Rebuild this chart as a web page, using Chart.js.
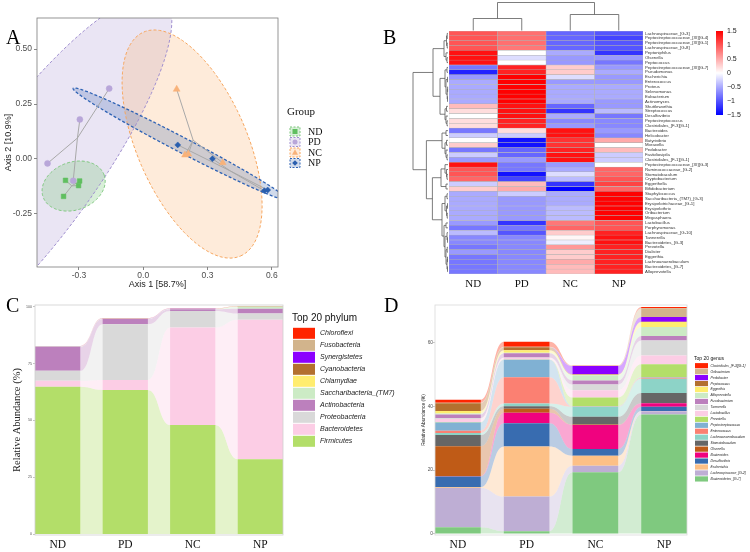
<!DOCTYPE html>
<html><head><meta charset="utf-8">
<script src="https://cdn.jsdelivr.net/npm/chart.js@4.4.1/dist/chart.umd.min.js"></script>
<style>
html,body{margin:0;padding:0;background:#fff}
#wrap{position:relative;width:750px;height:552px;overflow:hidden;background:#fff}
#wrap canvas{position:absolute}
.pl{position:absolute;font-family:"Liberation Serif","Times New Roman",serif;font-size:20px;line-height:20px;color:#000}
</style></head><body>
<div id="wrap">
 <canvas id="cA" width="375" height="300" style="left:0;top:0"></canvas>
 <canvas id="cB" width="375" height="300" style="left:375px;top:0"></canvas>
 <canvas id="cC" width="400" height="272" style="left:0;top:280px"></canvas>
 <canvas id="cD" width="375" height="272" style="left:375px;top:280px"></canvas>
 <div class="pl" style="left:6px;top:27px">A</div>
 <div class="pl" style="left:383px;top:27px">B</div>
 <div class="pl" style="left:6px;top:295px">C</div>
 <div class="pl" style="left:384px;top:295px">D</div>
</div>
<script>
// ================= DATA =================
// Panel A: PCoA (Axis 1, Axis 2 per sample)
const pcoaGroups = ['ND', 'PD', 'NC', 'NP'];
const ndAxis1 = [-0.363, -0.297, -0.302, -0.372];
const ndAxis2 = [-0.097, -0.100, -0.121, -0.170];
const pdAxis1 = [-0.447, -0.296, -0.159, -0.327];
const pdAxis2 = [-0.020, 0.180, 0.320, -0.099];
const ncAxis1 = [0.156, 0.195, 0.210, 0.371];
const ncAxis2 = [0.317, 0.018, 0.023, -0.017];
const npAxis1 = [0.161, 0.323, 0.565, 0.581];
const npAxis2 = [0.064, 0.001, -0.144, -0.141];
const pcoaXTicks = [-0.3, 0, 0.3, 0.6];
const pcoaYTicks = [-0.25, 0, 0.25, 0.5];
// confidence ellipses: centre (x,y), semi-axis vector u, semi-axis vector v (data units)
const ellipseND = [-0.325, -0.123, 0.1425, 0.050, 0.0374, -0.1023];
const ellipsePD = [-0.512, -0.0745, 0.605, 0.8086, 0.2248, -0.159];
const ellipseNC = [0.228, 0.068, 0.226, -0.509, 0.236, 0.099];
const ellipseNP = [0.1715, 0.0686, 0.4986, -0.2527, -0.0162, -0.0302];

// Panel B: heatmap (z-scores)
const heatCols = ['ND', 'PD', 'NC', 'NP'];
const heatRows = ['Lachnospiraceae_[G-3]','Peptostreptococcaceae_[XI][G-4]','Peptostreptococcaceae_[XI][G-1]','Lachnospiraceae_[G-8]','Peptoniphilus','Olsenella','Peptococcus','Peptostreptococcaceae_[XI][G-7]','Pseudomonas','Escherichia','Enterococcus','Proteus','Selenomonas','Eubacterium','Actinomyces','Shuttleworthia','Streptococcus','Desulfovibrio','Peptostreptococcus','Clostridiales_[F-3][G-1]','Bacteroides','Helicobacter','Butyrivibrio','Moraxella','Pedobacter','Fastidiosipila','Clostridiales_[F-1][G-1]','Peptostreptococcaceae_[XI][G-3]','Ruminococcaceae_[G-2]','Stomatobaculum','Cryptobacterium','Eggerthella','Bifidobacterium','Staphylococcus','Saccharibacteria_(TM7)_[G-3]','Erysipelotrichaceae_[G-1]','Erysipelothrix','Oribacterium','Megasphaera','Lactobacillus','Porphyromonas','Lachnospiraceae_[G-10]','Tannerella','Bacteroidetes_[G-3]','Prevotella','Dialister','Eggerthia','Lachnoanaerobaculum','Bacteroidetes_[G-7]','Alloprevotella'];
const heatND = [1.0,1.0,1.0,1.0,1.4,1.4,1.4,-0.8,-1.3,-0.6,-0.5,-0.5,-0.5,-0.5,-0.5,0.4,0.2,0.0,0.2,0.2,-0.8,-0.3,0.0,0.3,-0.8,-0.3,-0.6,1.4,1.0,1.0,0.9,-0.3,0.3,-0.5,-0.5,-0.5,-0.5,-0.5,-0.5,-0.6,-0.8,-0.4,-0.7,-0.7,-0.8,-0.6,-0.8,-0.8,-0.8,-0.8];
const heatPD = [0.85,0.85,0.85,0.8,0.0,-0.2,0.0,1.3,1.3,1.5,1.5,1.5,1.5,1.5,1.5,1.4,1.4,1.4,1.3,1.3,0.2,-0.3,-1.4,-1.4,-0.9,-0.9,-0.6,-0.8,-0.8,-1.4,-1.1,0.4,0.5,-0.3,-0.6,-0.6,-0.6,-0.6,-0.6,-1.2,-0.8,-1.0,-0.7,-0.7,-0.7,-0.7,-0.7,-0.7,-0.7,-0.7];
const heatNC = [-0.9,-0.9,-0.9,-0.9,-0.5,-0.6,-0.6,0.3,0.3,-0.2,-0.6,-0.5,-0.5,-0.5,-0.5,-0.9,-1.2,-0.5,-0.7,-0.6,1.4,1.4,1.2,1.2,1.3,1.4,1.4,-0.6,-0.5,-0.2,-0.4,-1.2,-1.5,-0.5,-0.5,-0.5,-0.4,-0.4,-0.4,0.8,0.9,0.3,0.05,-0.1,0.6,0.3,0.3,0.5,0.4,0.4];
const heatNP = [-1.0,-1.1,-1.0,-1.0,-1.2,-0.6,-0.8,-0.6,-0.5,-0.6,-0.6,-0.5,-0.5,-0.5,-0.6,-0.6,-0.4,-0.8,-0.7,-0.7,-0.6,-0.7,0.5,0.0,0.4,-0.3,-0.3,0.0,0.9,0.9,1.0,1.1,0.9,1.5,1.5,1.5,1.5,1.5,1.5,1.0,1.0,1.3,1.4,1.4,1.3,1.3,1.3,1.3,1.3,1.3];
const colorbarTicks = [1.5, 1, 0.5, 0, -0.5, -1, -1.5];
// hierarchical clustering: [height, left, right]; leaves = row / column index
const rowTree = [35,
  [15,
    [4, [1.5, [0.8, 0, 1], [0.8, 2, 3]], [2, 4, [1, 5, 6]]],
    [8, [3, [1, 7, 8], [2, [0.5, 9, 10], [0.8, [0.4, 11, 12], [0.5, 13, 14]]]], [3, [1.5, 15, 16], [2, 17, [1, 18, 19]]]]],
  [21.6,
    [6, [2, 20, 21], [3, [1.5, 22, 23], [2, 24, [1, 25, 26]]]],
    [15.6,
      [7, [3, 27, [1.5, 28, [1, 29, 30]]], [2, 31, 32]],
      [6, [3, [1, 33, 34], [1.5, [0.5, 35, 36], [0.8, 37, 38]]], [4, [2, 39, 40], [3, [1, 41, [0.5, 42, 43]], [2, [0.8, 44, 45], [1, [0.5, 46, 47], [0.5, 48, 49]]]]]]]]];
const colTree = [28, [12, 0, 1], [16, 2, 3]];

// Panel C: top phyla, relative abundance (%) – order bottom -> top
const groupNames = ['ND', 'PD', 'NC', 'NP'];
const phylumNames = ['Firmicutes','Bacteroidetes','Proteobacteria','Actinobacteria','Saccharibacteria_(TM7)','Chlamydiae','Cyanobacteria','Synergistetes','Fusobacteria','Chloroflexi'];
const phylumND = [64.8, 2.6, 4.4, 10.6, 0.1, 0.05, 0.05, 0.05, 0.05, 0.05];
const phylumPD = [63.4, 4.4, 24.5, 2.3, 0.1, 0.05, 0.05, 0.05, 0.05, 0.05];
const phylumNC = [48.0, 42.8, 7.3, 0.7, 0.2, 0.05, 0.05, 0.05, 0.05, 0.05];
const phylumNP = [33.0, 61.2, 2.8, 2.0, 1.0, 0.05, 0.05, 0.05, 0.05, 0.05];
const phylumTicks = [0, 25, 50, 75, 100];

// Panel D: top genera, relative abundance (%) – order bottom -> top
const genusNames = ['Bacteroidetes_[G-7]','Lachnospiraceae_[G-2]','Escherichia','Desulfovibrio','Bacteroides','Olsenella','Stomatobaculum','Lachnoanaerobaculum','Enterococcus','Peptostreptococcus','Prevotella','Lactobacillus','Tannerella','Fusobacterium','Alloprevotella','Eggerthia','Peptococcus','Pedobacter','Oribacterium','Clostridiales_[F-3][G-1]'];
const genusND = [2.0, 12.4, 0.2, 3.4, 0.1, 9.4, 3.5, 0.7, 0.7, 2.6, 0.1, 1.0, 0.2, 1.2, 0.3, 0.8, 2.4, 0.05, 0.1, 1.0];
const genusPD = [0.8, 10.9, 15.7, 7.3, 3.3, 1.3, 0.8, 0.8, 8.3, 5.5, 0.1, 0.5, 0.1, 1.3, 0.2, 0.8, 0.9, 0.05, 0.1, 1.6];
const genusNC = [19.3, 2.1, 3.1, 2.1, 7.6, 0.1, 2.5, 3.1, 0.1, 0.1, 2.7, 2.3, 1.8, 1.3, 1.6, 0.2, 0.1, 2.6, 0.1, 0.1];
const genusNP = [37.5, 1.0, 0.1, 1.3, 1.1, 0.05, 3.2, 4.5, 0.3, 0.1, 4.1, 2.8, 4.7, 1.4, 2.8, 1.6, 0.1, 1.5, 2.7, 0.4];
const genusTicks = [0, 20, 40, 60];

// ================= STYLE =================
const SANS = '"Liberation Sans", Arial, Helvetica, sans-serif';
const SERIF = '"Liberation Serif", "Times New Roman", Times, serif';
Chart.defaults.font.family = SANS;
Chart.defaults.animation = false;
Chart.defaults.events = [];
Chart.defaults.plugins.legend.display = false;
Chart.defaults.plugins.tooltip.enabled = false;

const groupStyle = {
  ND: {pt: '#5fbf5f', shape: 'rect', r: 3.3, fill: 'rgba(100,190,100,0.25)', line: '#7cc67c', lw: 1},
  PD: {pt: '#b8a6d9', shape: 'circle', r: 3, fill: 'rgba(185,170,220,0.30)', line: '#a08fcf', lw: 1},
  NC: {pt: '#f8b27a', shape: 'triangle', r: 4, fill: 'rgba(250,180,120,0.27)', line: '#f6a55d', lw: 1},
  NP: {pt: '#2a5fae', shape: 'rectRot', r: 3, fill: 'rgba(60,100,170,0.24)', line: '#2f63b5', lw: 1.3}
};
const phylumColors = ['#b3de69','#fccde5','#d9d9d9','#bc80bd','#ccebc5','#ffed6f','#b3702f','#8b00ff','#d2b48c','#ff2400'];
const genusColors = ['#7fc97f','#beaed4','#fdc086','#386cb0','#f0027f','#bf5b17','#666666','#8dd3c7','#fb8072','#80b1d3','#b3de69','#fccde5','#d9d9d9','#bc80bd','#ccebc5','#ffed6f','#b3702f','#8b00ff','#d2b48c','#ff2400'];

function withAlpha(hex, a) {
  const n = parseInt(hex.slice(1), 16);
  return `rgba(${n >> 16},${(n >> 8) & 255},${n & 255},${a})`;
}

const framePlugin = (color, lw) => ({
  id: 'frame',
  afterDatasetsDraw(chart) {
    const {ctx, chartArea: ca} = chart;
    ctx.save(); ctx.strokeStyle = color; ctx.lineWidth = lw;
    ctx.strokeRect(ca.left, ca.top, ca.right - ca.left, ca.bottom - ca.top);
    ctx.restore();
  }
});

// ================= PANEL A =================
const pcoaX = [ndAxis1, pdAxis1, ncAxis1, npAxis1];
const pcoaY = [ndAxis2, pdAxis2, ncAxis2, npAxis2];
const ellipseParams = [ellipseND, ellipsePD, ellipseNC, ellipseNP];
const ellipseOrder = [1, 2, 0, 3];

const aDatasets = [];
pcoaGroups.forEach((g, gi) => {
  const xs = pcoaX[gi], ys = pcoaY[gi];
  const cx = xs.reduce((s, v) => s + v, 0) / xs.length;
  const cy = ys.reduce((s, v) => s + v, 0) / ys.length;
  const seg = [];
  xs.forEach((x, i) => { seg.push({x: cx, y: cy}, {x: x, y: ys[i]}, {x: null, y: null}); });
  aDatasets.push({data: seg, showLine: true, borderColor: '#a8a8a8', borderWidth: 1, pointRadius: 0, spanGaps: false, order: 2});
});
pcoaGroups.forEach((g, gi) => {
  const st = groupStyle[g];
  aDatasets.push({label: g, data: pcoaX[gi].map((x, i) => ({x: x, y: pcoaY[gi][i]})),
    pointStyle: st.shape, pointRadius: st.r, backgroundColor: st.pt, borderColor: st.pt, borderWidth: 0.5, order: 1});
});

const ellipsePlugin = {
  id: 'ellipses',
  beforeDatasetsDraw(chart) {
    const {ctx, chartArea: ca, scales: {x, y}} = chart;
    const paths = ellipseOrder.map(gi => {
      const [cx, cy, ux, uy, vx, vy] = ellipseParams[gi];
      const p = new Path2D();
      for (let k = 0; k <= 180; k++) {
        const t = k / 180 * Math.PI * 2;
        const dx = cx + Math.cos(t) * ux + Math.sin(t) * vx;
        const dy = cy + Math.cos(t) * uy + Math.sin(t) * vy;
        const px = x.getPixelForValue(dx), py = y.getPixelForValue(dy);
        if (k) p.lineTo(px, py); else p.moveTo(px, py);
      }
      p.closePath();
      return [gi, p];
    });
    ctx.save();
    ctx.beginPath(); ctx.rect(ca.left, ca.top, ca.right - ca.left, ca.bottom - ca.top); ctx.clip();
    paths.forEach(([gi, p]) => { ctx.fillStyle = groupStyle[pcoaGroups[gi]].fill; ctx.fill(p); });
    paths.forEach(([gi, p]) => {
      const st = groupStyle[pcoaGroups[gi]];
      ctx.setLineDash([3, 2]); ctx.strokeStyle = st.line; ctx.lineWidth = st.lw; ctx.stroke(p);
    });
    ctx.restore();
  }
};

const groupLegendPlugin = {
  id: 'groupLegend',
  afterDraw(chart) {
    const ctx = chart.ctx;
    ctx.save();
    ctx.fillStyle = '#111'; ctx.textBaseline = 'middle';
    ctx.font = `11px ${SERIF}`; ctx.fillText('Group', 287, 112);
    const ys = [131.5, 142, 152.5, 163];
    pcoaGroups.forEach((g, i) => {
      const st = groupStyle[g];
      const y = ys[i];
      ctx.fillStyle = st.fill; ctx.fillRect(290, y - 4.5, 10, 9);
      ctx.setLineDash([2, 1.5]); ctx.strokeStyle = st.line; ctx.lineWidth = 1;
      ctx.strokeRect(290, y - 4.5, 10, 9); ctx.setLineDash([]);
      ctx.fillStyle = st.pt;
      const cx = 295, r = 2.5;
      ctx.beginPath();
      if (st.shape === 'rect') ctx.rect(cx - r, y - r, 2 * r, 2 * r);
      else if (st.shape === 'circle') ctx.arc(cx, y, r, 0, Math.PI * 2);
      else if (st.shape === 'triangle') { ctx.moveTo(cx, y - 3.2); ctx.lineTo(cx + 3, y + 2.3); ctx.lineTo(cx - 3, y + 2.3); ctx.closePath(); }
      else { ctx.moveTo(cx, y - 2.8); ctx.lineTo(cx + 2.8, y); ctx.lineTo(cx, y + 2.8); ctx.lineTo(cx - 2.8, y); ctx.closePath(); }
      ctx.fill();
      ctx.fillStyle = '#111'; ctx.font = `10px ${SERIF}`;
      ctx.fillText(g, 308, y + 0.5);
    });
    ctx.restore();
  }
};

new Chart(document.getElementById('cA'), {
  type: 'scatter',
  data: {datasets: aDatasets},
  options: {
    responsive: false, devicePixelRatio: 1,
    layout: {padding: {left: 0, top: 18, right: 97, bottom: 0}},
    scales: {
      x: {type: 'linear', min: -0.496, max: 0.629,
        afterBuildTicks: s => { s.ticks = pcoaXTicks.map(v => ({value: v})); },
        ticks: {callback: v => v.toFixed(1), font: {size: 8.5}, color: '#4d4d4d', padding: 1, maxRotation: 0},
        grid: {display: true, drawOnChartArea: false, drawTicks: true, tickLength: 3, color: '#555', lineWidth: 0.7},
        border: {display: false},
        title: {display: true, text: 'Axis 1 [58.7%]', font: {size: 9}, color: '#222', padding: {top: 0, bottom: 10}},
        afterFit: s => { s.height = 33; }},
      y: {type: 'linear', min: -0.491, max: 0.641,
        afterBuildTicks: s => { s.ticks = pcoaYTicks.map(v => ({value: v})); },
        ticks: {callback: v => v.toFixed(2), font: {size: 8.5}, color: '#4d4d4d', padding: 2},
        grid: {display: true, drawOnChartArea: false, drawTicks: true, tickLength: 3, color: '#555', lineWidth: 0.7},
        border: {display: false},
        title: {display: true, text: 'Axis 2 [10.9%]', font: {size: 9}, color: '#222', padding: {top: 3, bottom: 0}},
        afterFit: s => { s.width = 37; }}
    }
  },
  plugins: [ellipsePlugin, framePlugin('#7a7a7a', 0.8), groupLegendPlugin]
});

// ================= PANEL B =================
const heatValues = [heatND, heatPD, heatNC, heatNP];
function heatColor(v) {
  const t = Math.max(-1, Math.min(1, v / 1.5));
  if (t >= 0) { const c = Math.round(255 * (1 - t)); return `rgb(255,${c},${c})`; }
  const c = Math.round(255 * (1 + t)); return `rgb(${c},${c},255)`;
}
const dendroPlugin = {
  id: 'dendro',
  afterDraw(chart) {
    const {ctx, chartArea: ca, scales: {x, y}} = chart;
    ctx.save(); ctx.strokeStyle = '#5c5c5c'; ctx.lineWidth = 0.8;
    const L = ca.left - 1;
    const walkRow = node => {
      if (typeof node === 'number') return {p: y.getPixelForValue(node), h: 0};
      const [h, a, b] = node; const A = walkRow(a), B = walkRow(b);
      ctx.beginPath();
      ctx.moveTo(L - A.h, A.p); ctx.lineTo(L - h, A.p); ctx.lineTo(L - h, B.p); ctx.lineTo(L - B.h, B.p);
      ctx.stroke();
      return {p: (A.p + B.p) / 2, h: h};
    };
    walkRow(rowTree);
    const T = ca.top - 0.5;
    const walkCol = node => {
      if (typeof node === 'number') return {p: x.getPixelForValue(node + 0.5), h: 0};
      const [h, a, b] = node; const A = walkCol(a), B = walkCol(b);
      ctx.beginPath();
      ctx.moveTo(A.p, T - A.h); ctx.lineTo(A.p, T - h); ctx.lineTo(B.p, T - h); ctx.lineTo(B.p, T - B.h);
      ctx.stroke();
      return {p: (A.p + B.p) / 2, h: h};
    };
    walkCol(colTree);
    // colour key
    const bx = 341, bw = 7, bt = 31, bb = 115;
    const g = ctx.createLinearGradient(0, bt, 0, bb);
    g.addColorStop(0, '#ff0000'); g.addColorStop(0.5, '#ffffff'); g.addColorStop(1, '#0000ff');
    ctx.fillStyle = g; ctx.fillRect(bx, bt, bw, bb - bt);
    ctx.fillStyle = '#222'; ctx.font = `7px ${SANS}`; ctx.textBaseline = 'middle';
    colorbarTicks.forEach(v => {
      const yy = bt + (1.5 - v) / 3 * (bb - bt);
      ctx.fillText(String(v).replace('-', '\u2212'), bx + bw + 4, yy);
    });
    ctx.restore();
  }
};
new Chart(document.getElementById('cB'), {
  type: 'bar',
  data: {
    labels: heatRows,
    datasets: heatCols.map((c, ci) => ({
      label: c,
      data: heatValues[ci].map(() => [ci, ci + 1]),
      backgroundColor: heatValues[ci].map(heatColor),
      borderColor: '#b0b0b0', borderWidth: 0.5, borderSkipped: false,
      grouped: false, categoryPercentage: 1, barPercentage: 1
    }))
  },
  options: {
    indexAxis: 'y', responsive: false, devicePixelRatio: 1,
    layout: {padding: {left: 74, top: 31, right: 0, bottom: 0}},
    scales: {
      x: {type: 'linear', min: 0, max: 4, offset: false,
        afterBuildTicks: s => { s.ticks = heatCols.map((c, i) => ({value: i + 0.5})); },
        ticks: {callback: (v, i) => heatCols[i], font: {family: SERIF, size: 11}, color: '#111', padding: 4, maxRotation: 0, autoSkip: false},
        grid: {display: false, drawTicks: false}, border: {display: false},
        afterFit: s => { s.height = 26; }},
      y: {position: 'right',
        ticks: {autoSkip: false, font: {size: 4.3}, color: '#333', padding: 2},
        grid: {display: false, drawTicks: false}, border: {display: false},
        afterFit: s => { s.width = 107; }}
    }
  },
  plugins: [dendroPlugin]
});

// ================= PANELS C & D =================
const alluviumPlugin = {
  id: 'alluvium',
  beforeDatasetsDraw(chart) {
    const ctx = chart.ctx;
    ctx.save();
    chart.data.datasets.forEach((ds, i) => {
      const els = chart.getDatasetMeta(i).data;
      for (let k = 0; k < els.length - 1; k++) {
        const a = els[k].getProps(['x', 'y', 'base', 'width'], true);
        const b = els[k + 1].getProps(['x', 'y', 'base', 'width'], true);
        const x0 = a.x + a.width / 2, x1 = b.x - b.width / 2, xm = (x0 + x1) / 2;
        const aT = Math.min(a.y, a.base), aB = Math.max(a.y, a.base);
        const bT = Math.min(b.y, b.base), bB = Math.max(b.y, b.base);
        ctx.beginPath();
        ctx.moveTo(x0, aT);
        ctx.bezierCurveTo(xm, aT, xm, bT, x1, bT);
        ctx.lineTo(x1, bB);
        ctx.bezierCurveTo(xm, bB, xm, aB, x0, aB);
        ctx.closePath();
        ctx.fillStyle = withAlpha(ds.backgroundColor, 0.35);
        ctx.fill();
      }
    });
    ctx.restore();
  }
};
function taxaLegend(title, names, colors, o) {
  return {
    id: 'taxaLegend',
    afterDraw(chart) {
      const ctx = chart.ctx;
      ctx.save(); ctx.textBaseline = 'middle';
      ctx.fillStyle = '#111'; ctx.font = `${o.titleSize}px ${SANS}`;
      ctx.fillText(title, o.x, o.titleY);
      const n = names.length;
      for (let i = 0; i < n; i++) {
        const idx = n - 1 - i;
        const y = o.y0 + i * o.step;
        ctx.fillStyle = colors[idx];
        ctx.fillRect(o.x + 1, y - o.boxH / 2, o.boxW, o.boxH);
        ctx.fillStyle = '#222'; ctx.font = `italic ${o.textSize}px ${SANS}`;
        ctx.fillText(names[idx], o.x + 1 + o.boxW + o.gap, y);
      }
      ctx.restore();
    }
  };
}
function stackChart(id, names, colors, groupVals, cfg, legend) {
  const datasets = names.map((n, i) => ({
    label: n,
    data: groupVals.map((vals, gi) => ({x: gi + 1, y: vals[i]})),
    backgroundColor: colors[i], borderWidth: 0,
    categoryPercentage: 1, barPercentage: cfg.barRatio
  }));
  return new Chart(document.getElementById(id), {
    type: 'bar',
    data: {datasets: datasets},
    options: {
      responsive: false, devicePixelRatio: 1,
      layout: {padding: cfg.padding},
      scales: {
        x: {type: 'linear', stacked: true, offset: false, min: cfg.xMin, max: cfg.xMax,
          afterBuildTicks: s => { s.ticks = groupNames.map((g, i) => ({value: i + 1})); },
          ticks: {callback: (v, i) => groupNames[i], font: {family: SERIF, size: cfg.catFont}, color: '#111', padding: cfg.catPad, maxRotation: 0, autoSkip: false},
          grid: {display: false, drawTicks: false}, border: {display: false},
          afterFit: s => { s.height = cfg.xH; }},
        y: {type: 'linear', stacked: true, min: cfg.yMin, max: cfg.yMax,
          afterBuildTicks: s => { s.ticks = cfg.yTicks.map(v => ({value: v})); },
          ticks: {font: {size: cfg.tickFont}, color: '#555', padding: cfg.tickPad},
          grid: {display: true, drawOnChartArea: false, drawTicks: true, tickLength: 2, color: '#888', lineWidth: 0.5},
          border: {display: false},
          title: {display: true, text: 'Relative Abundance (%)', font: cfg.titleFont, color: '#222', padding: {top: cfg.titlePad, bottom: 0}},
          afterFit: s => { s.width = cfg.yW; }}
      }
    },
    plugins: [alluviumPlugin, framePlugin(cfg.frame, 0.8), legend]
  });
}
stackChart('cC', phylumNames, phylumColors, [phylumND, phylumPD, phylumNC, phylumNP], {
  barRatio: 0.672, padding: {left: 0, top: 25, right: 117, bottom: 0},
  xMin: 0.664, xMax: 4.336, yMin: -0.3, yMax: 100.7, yTicks: phylumTicks,
  catFont: 11.5, catPad: 3, xH: 17, tickFont: 3.6, tickPad: 1, yW: 35,
  titleFont: {family: SERIF, size: 10.5}, titlePad: 11, frame: '#d0d0d0'
}, taxaLegend('Top 20 phylum', phylumNames, phylumColors, {x: 292, titleY: 38, y0: 53.3, step: 12, boxW: 22, boxH: 11, gap: 5, titleSize: 10, textSize: 7}));

stackChart('cD', genusNames, genusColors, [genusND, genusPD, genusNC, genusNP], {
  barRatio: 0.667, padding: {left: 40, top: 25, right: 63, bottom: 0},
  xMin: 0.667, xMax: 4.333, yMin: -0.4, yMax: 71.9, yTicks: genusTicks,
  catFont: 11.5, catPad: 3, xH: 17, tickFont: 4.8, tickPad: 0, yW: 20,
  titleFont: {family: SANS, size: 4.8}, titlePad: 6, frame: '#d9d9d9'
}, taxaLegend('Top 20 genus', genusNames, genusColors, {x: 319, titleY: 78.3, y0: 85.7, step: 5.96, boxW: 13, boxH: 5.2, gap: 2.5, titleSize: 5, textSize: 3.4}));
</script>
</body></html>
